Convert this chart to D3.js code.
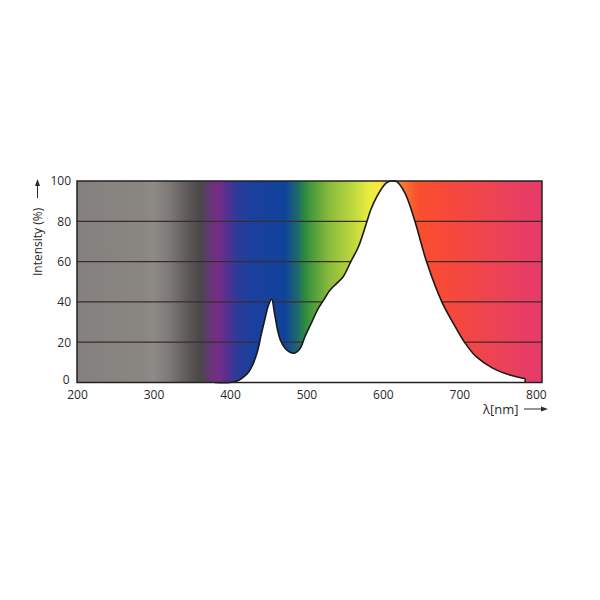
<!DOCTYPE html>
<html>
<head>
<meta charset="utf-8">
<script src="https://cdn.jsdelivr.net/npm/d3@7"></script>
<style>
  html, body { margin: 0; padding: 0; background: #ffffff; }
  svg { display: block; }
  text { font-family: "Open Sans", "DejaVu Sans", sans-serif; }
</style>
</head>
<body>
<svg id="chart" width="600" height="600"></svg>
<script>
// ---- data ----
const wavelength = [380, 400, 411, 418, 424, 430, 436, 441, 446, 450, 454.5, 458, 462, 466, 472, 478, 485, 492, 498, 507, 515.5, 521, 531, 539.5, 548, 558, 568, 579, 584, 592, 600, 605, 611, 618, 629, 642, 657, 677, 692, 707, 722, 744, 766, 783, 785.5, 786];
const intensity  = [0,   0,   1,   2.8, 5,   9,   15.5, 24,  32,  38,  41.3, 35,  26.5, 21,  17,  15.1, 14.6, 17,  22.7, 30,  36.8, 40,  45.9, 49.2, 52.5, 60, 67.4, 79.8, 85.6, 92.2, 97.2, 99.2, 100, 99.7, 93.9, 79.8, 60, 40, 29.4, 19.8, 12.8, 7, 3.7, 2.1, 2.0, 0];
const xTicks = [200, 300, 400, 500, 600, 700, 800];
const yTicks = [0, 20, 40, 60, 80, 100];
const gridValues = [20, 40, 60, 80];
const spectrumStops = [
  [200, "#84807d"], [288, "#8a8682"], [300, "#8e8a87"], [322, "#7c7876"],
  [344, "#5e5a59"], [361, "#4b4747"], [371, "#5e3a6e"], [384, "#772c86"],
  [395, "#5a2e8e"], [408, "#2e3a98"], [426, "#1c3f9c"], [472, "#0f439c"],
  [489, "#1f6a6a"], [498, "#2e8a40"], [511, "#55a03a"], [531, "#8cbc3c"],
  [557, "#b6d43e"], [583, "#ecec40"], [596, "#f8ea42"], [606, "#f8b830"],
  [622, "#f88030"], [646, "#f8502e"], [674, "#f84a36"], [714, "#f24646"],
  [753, "#ec4256"], [779, "#e83e62"], [808, "#e83a6a"]
];
const data = wavelength.map((w, i) => ({ w, v: intensity[i] }));

// ---- layout ----
const svg = d3.select("#chart");
const mLeft = 77, mRight = 542, mTop = 181, mBottom = 382.5;
const x = d3.scaleLinear().domain([200, 808]).range([mLeft, mRight]);
const y = d3.scaleLinear().domain([0, 100]).range([mBottom, mTop]);

// gradient
const defs = svg.append("defs");
const grad = defs.append("linearGradient")
  .attr("id", "spec").attr("gradientUnits", "userSpaceOnUse")
  .attr("x1", x(200)).attr("x2", x(808)).attr("y1", 0).attr("y2", 0);
grad.selectAll("stop").data(spectrumStops).join("stop")
  .attr("offset", d => (x(d[0]) - x(200)) / (x(808) - x(200)))
  .attr("stop-color", d => d[1]);

svg.append("rect")
  .attr("x", mLeft).attr("y", mTop)
  .attr("width", mRight - mLeft).attr("height", mBottom - mTop)
  .attr("fill", "url(#spec)");

// gridlines
svg.append("g").selectAll("line").data(gridValues).join("line")
  .attr("x1", mLeft).attr("x2", mRight)
  .attr("y1", d => y(d)).attr("y2", d => y(d))
  .attr("stroke", "#3a2c2c").attr("stroke-width", 1.3);

// white area under curve
const curve = d3.curveCatmullRom.alpha(0.5);
const area = d3.area().x(d => x(d.w)).y0(y(0)).y1(d => y(d.v)).curve(curve);
svg.append("path").datum(data).attr("d", area).attr("fill", "#ffffff");
const line = d3.line().x(d => x(d.w)).y(d => y(d.v)).curve(curve);
svg.append("path").datum(data).attr("d", line)
  .attr("fill", "none").attr("stroke", "#1a1a1a").attr("stroke-width", 1.6);

// frame
svg.append("rect")
  .attr("x", mLeft).attr("y", mTop)
  .attr("width", mRight - mLeft).attr("height", mBottom - mTop)
  .attr("fill", "none").attr("stroke", "#222").attr("stroke-width", 1.5);

// axes
const xAxis = svg.append("g").attr("transform", `translate(0,${mBottom})`)
  .call(d3.axisBottom(x).tickValues(xTicks).tickSize(0).tickPadding(8).tickFormat(d3.format("d")));
xAxis.select(".domain").remove();
xAxis.selectAll("text").attr("font-size", 12).attr("fill", "#2a2a2a")
  .attr("font-family", "'Open Sans', sans-serif");

const yAxis = svg.append("g").attr("transform", `translate(${mLeft},0)`)
  .call(d3.axisLeft(y).tickValues(yTicks).tickSize(0).tickPadding(6).tickFormat(d3.format("d")));
yAxis.select(".domain").remove();
yAxis.selectAll("text").attr("font-size", 12).attr("fill", "#2a2a2a")
  .attr("font-family", "'Open Sans', sans-serif")
  .attr("dy", d => d === 0 ? "0.08em" : "0.32em")
  .attr("dx", d => d === 0 ? -1.5 : 0);

// axis labels
svg.append("text")
  .attr("transform", "translate(41.5,276) rotate(-90)")
  .attr("font-size", 12).attr("fill", "#2a2a2a")
  .text("Intensity (%)");
svg.append("line").attr("x1", 37.5).attr("x2", 37.5).attr("y1", 198).attr("y2", 184)
  .attr("stroke", "#2a2a2a").attr("stroke-width", 1);
svg.append("path").attr("d", "M37.5,179 L35,186 L40,186 Z").attr("fill", "#2a2a2a");

svg.append("text")
  .attr("x", 483).attr("y", 414)
  .attr("font-size", 13).attr("fill", "#2a2a2a")
  .text("λ[nm]");
svg.append("line").attr("x1", 524).attr("x2", 542).attr("y1", 409).attr("y2", 409)
  .attr("stroke", "#2a2a2a").attr("stroke-width", 1);
svg.append("path").attr("d", "M548,409 L541,406.5 L541,411.5 Z").attr("fill", "#2a2a2a");
</script>
</body>
</html>
